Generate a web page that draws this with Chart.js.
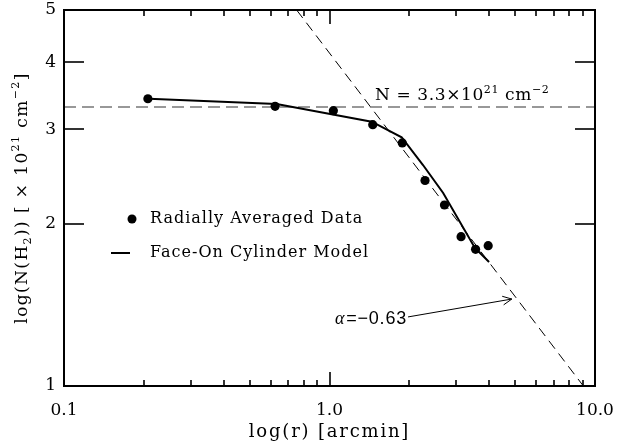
<!DOCTYPE html>
<html>
<head>
<meta charset="utf-8">
<script src="https://cdn.jsdelivr.net/npm/chart.js@4/dist/chart.umd.min.js"></script>
<style>
  html, body { margin: 0; padding: 0; background: #fff; }
  #c { display: block; }
</style>
</head>
<body>
<canvas id="c" width="617" height="447"></canvas>
<script>
// ----------------------------
// Data
// ----------------------------
const dataR = [0.207, 0.624, 1.034, 1.455, 1.88, 2.29, 2.71, 3.13, 3.55, 3.96];
const dataN = [3.42, 3.31, 3.25, 3.06, 2.83, 2.41, 2.17, 1.895, 1.795, 1.823];

const modelR = [0.209, 0.632, 1.442, 1.87, 2.25, 2.68, 3.53, 3.99];
const modelN = [3.42, 3.345, 3.10, 2.90, 2.575, 2.285, 1.806, 1.70];

const flatR = [0.1, 10];
const flatN = [3.3, 3.3];

const powerR = [0.752, 9.04];
const powerN = [5, 1];

const xMajorTicks = [0.1, 1, 10];
const xMajorLabels = ["0.1", "1.0", "10.0"];
const xMinorTicks = [0.2, 0.3, 0.4, 0.5, 0.6, 0.7, 0.8, 0.9, 2, 3, 4, 5, 6, 7, 8, 9];
const yTicks = [1, 2, 3, 4, 5];
const yTickLabels = ["1", "2", "3", "4", "5"];

const arrowFrom = [1.976, 1.344];
const arrowTo = [4.86, 1.451];

const SERIF = "'DejaVu Serif', 'Liberation Serif', serif";

const pts = (xs, ys) => xs.map((x, i) => ({ x: x, y: ys[i] }));

// text with raised/lowered pieces: [text, scale, dy]
function richWidth(ctx, parts, size, spacing) {
  let w = 0;
  parts.forEach(p => {
    ctx.font = Math.round(size * (p[1] || 1)) + "px " + SERIF;
    ctx.letterSpacing = spacing + "px";
    w += ctx.measureText(p[0]).width;
  });
  return w;
}
function richText(ctx, parts, x, y, size, spacing) {
  ctx.textAlign = "left";
  parts.forEach(p => {
    ctx.font = Math.round(size * (p[1] || 1)) + "px " + SERIF;
    ctx.letterSpacing = spacing + "px";
    ctx.fillText(p[0], x, y + (p[2] || 0));
    x += ctx.measureText(p[0]).width;
  });
}

// ----------------------------
// Frame, ticks, legend, labels
// ----------------------------
const decorPlugin = {
  id: "decor",
  afterDraw(chart) {
    const ctx = chart.ctx;
    const a = chart.chartArea;
    const xs = chart.scales.x, ys = chart.scales.y;
    ctx.save();
    ctx.strokeStyle = "#000";
    ctx.fillStyle = "#000";
    ctx.lineWidth = 2;
    ctx.strokeRect(a.left, a.top, a.right - a.left, a.bottom - a.top);

    ctx.lineWidth = 1.6;
    const seg = (x1, y1, x2, y2) => { ctx.beginPath(); ctx.moveTo(x1, y1); ctx.lineTo(x2, y2); ctx.stroke(); };
    xMajorTicks.forEach(v => {
      const px = Math.round(xs.getPixelForValue(v));
      seg(px, a.bottom, px, a.bottom - 14);
      seg(px, a.top, px, a.top + 14);
    });
    xMinorTicks.forEach(v => {
      const px = Math.round(xs.getPixelForValue(v));
      seg(px, a.bottom, px, a.bottom - 6);
      seg(px, a.top, px, a.top + 6);
    });
    yTicks.forEach(v => {
      const py = Math.round(ys.getPixelForValue(v));
      seg(a.left, py, a.left + 20, py);
      seg(a.right, py, a.right - 20, py);
    });

    // axis titles
    ctx.textBaseline = "middle";
    const xt = [["log(r) [arcmin]"]];
    const xw = richWidth(ctx, xt, 18, 1.8);
    richText(ctx, xt, (a.left + a.right) / 2 - xw / 2, 432, 18, 1.8);

    const yt = [["log(N(H"], ["2", 0.65, 5], [")) [ \u00d7 10"], ["21", 0.65, -7], [" cm"], ["\u22122", 0.65, -7], ["]"]];
    const yw = richWidth(ctx, yt, 17, 1.4);
    ctx.save();
    ctx.translate(23, (a.top + a.bottom) / 2);
    ctx.rotate(-Math.PI / 2);
    richText(ctx, yt, -yw / 2, 0, 17, 1.4);
    ctx.restore();

    // legend
    ctx.font = "16px " + SERIF;
    ctx.letterSpacing = "1px";
    ctx.textAlign = "left";
    ctx.beginPath();
    ctx.arc(132, 219, 4.5, 0, Math.PI * 2);
    ctx.fill();
    ctx.fillText("Radially Averaged Data", 150, 219);
    ctx.lineWidth = 2;
    seg(111, 253, 130, 253);
    ctx.fillText("Face-On Cylinder Model", 150, 253);

    // N label above the dashed line
    const ny = ys.getPixelForValue(3.3);
    ctx.textBaseline = "alphabetic";
    richText(ctx, [["N = 3.3\u00d710"], ["21", 0.65, -7], [" cm"], ["\u22122", 0.65, -7]],
      xs.getPixelForValue(1.484), ny - 7, 17, 0.6);

    // alpha arrow
    const x0 = xs.getPixelForValue(arrowFrom[0]), y0 = ys.getPixelForValue(arrowFrom[1]);
    const x1 = xs.getPixelForValue(arrowTo[0]), y1 = ys.getPixelForValue(arrowTo[1]);
    ctx.lineWidth = 1;
    seg(x0, y0, x1, y1);
    const ang = Math.atan2(y1 - y0, x1 - x0);
    ctx.beginPath();
    ctx.moveTo(x1 - 10 * Math.cos(ang - 0.45), y1 - 10 * Math.sin(ang - 0.45));
    ctx.lineTo(x1, y1);
    ctx.lineTo(x1 - 10 * Math.cos(ang + 0.45), y1 - 10 * Math.sin(ang + 0.45));
    ctx.stroke();
    ctx.textAlign = "right";
    ctx.textBaseline = "middle";
    ctx.font = "18px 'Liberation Sans', Arial, sans-serif";
    ctx.letterSpacing = "0.8px";
    const w = ctx.measureText("=\u22120.63").width;
    ctx.fillText("=\u22120.63", x0 - 1, y0 + 2);
    ctx.font = "italic 18px 'Liberation Serif', serif";
    ctx.fillText("\u03b1", x0 - 2 - w, y0 + 2);
    ctx.restore();
  }
};

new Chart(document.getElementById("c"), {
  type: "scatter",
  data: {
    datasets: [
      { label: "Radially Averaged Data", data: pts(dataR, dataN), showLine: false,
        pointRadius: 4.6, pointBackgroundColor: "#000", pointBorderWidth: 0, order: 0 },
      { label: "Face-On Cylinder Model", data: pts(modelR, modelN), showLine: true,
        borderColor: "#000", borderWidth: 2, pointRadius: 0, order: 1 },
      { label: "flat", data: pts(flatR, flatN), showLine: true, borderColor: "#777",
        borderWidth: 1.5, borderDash: [12, 6], pointRadius: 0, order: 2 },
      { label: "power", data: pts(powerR, powerN), showLine: true, borderColor: "#000",
        borderWidth: 1, borderDash: [10, 6], pointRadius: 0, order: 3 }
    ]
  },
  options: {
    responsive: false,
    animation: false,
    layout: { padding: { left: 0, top: 0, right: 22, bottom: 0 } },
    plugins: { legend: { display: false }, tooltip: { enabled: false } },
    scales: {
      x: {
        type: "logarithmic", min: 0.1, max: 10,
        afterBuildTicks: s => { s.ticks = xMajorTicks.concat(xMinorTicks).map(v => ({ value: v })); },
        afterFit: s => { s.height = 61; },
        grid: { display: false, drawTicks: false },
        border: { display: false },
        ticks: {
          autoSkip: false, maxRotation: 0, padding: 14, color: "#000",
          font: { family: SERIF, size: 17 },
          callback: v => { const i = xMajorTicks.indexOf(v); return i >= 0 ? xMajorLabels[i] : ""; }
        },
        title: { display: false }
      },
      y: {
        type: "logarithmic", min: 1, max: 5,
        afterBuildTicks: s => { s.ticks = yTicks.map(v => ({ value: v })); },
        afterFit: s => { s.width = 64; s.paddingTop = 10; },
        grid: { display: false, drawTicks: false },
        border: { display: false },
        ticks: {
          autoSkip: false, padding: 8, color: "#000",
          font: { family: SERIF, size: 17 },
          callback: v => { const i = yTicks.indexOf(v); return i >= 0 ? yTickLabels[i] : ""; }
        },
        title: { display: false }
      }
    }
  },
  plugins: [decorPlugin]
});
</script>
</body>
</html>
